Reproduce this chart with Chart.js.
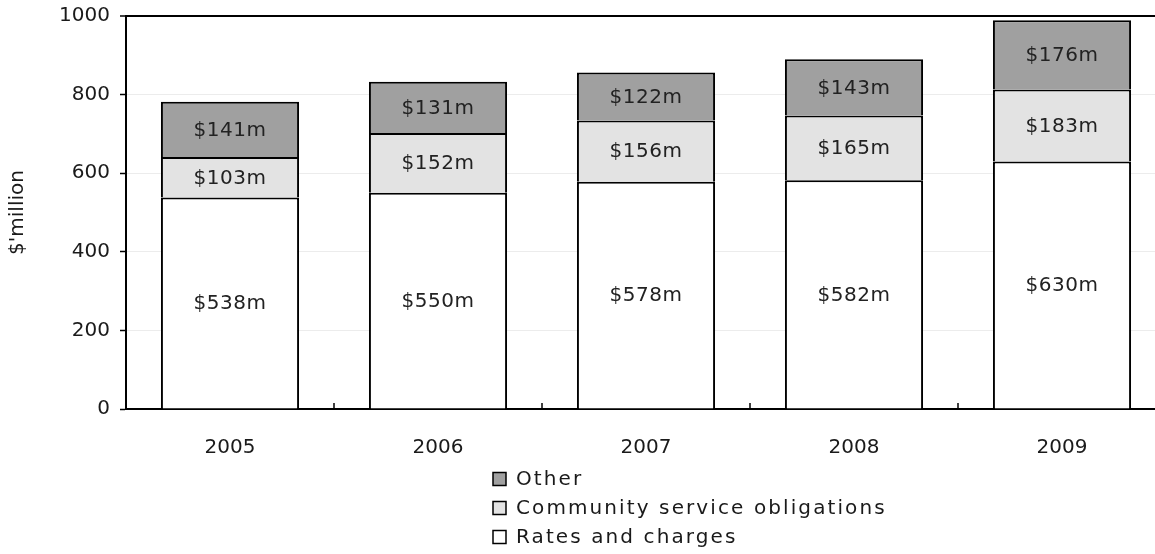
<!DOCTYPE html>
<html>
<head>
<meta charset="utf-8">
<title>Revenue by source</title>
<script src="https://cdn.jsdelivr.net/npm/chart.js@4.4.1/dist/chart.umd.min.js"></script>
<style>
  html, body { margin: 0; padding: 0; background: #fff; overflow: hidden; }
  #wrap { position: relative; width: 1170px; height: 554px; }
</style>
</head>
<body>
<div id="wrap"><canvas id="revenue-chart" width="1170" height="554"></canvas></div>
<script>
// Revenue by source, $ million
const years = ['2005', '2006', '2007', '2008', '2009'];
const ratesAndCharges = [538, 550, 578, 582, 630];
const communityServiceObligations = [103, 152, 156, 165, 183];
const otherRevenue = [141, 131, 122, 143, 176];
const yTicks = [0, 200, 400, 600, 800, 1000];

const FONT = 'DejaVu Sans';
const TEXT = '#1a1a1a';

// small inward ticks between the year categories
const innerTicks = {
  id: 'innerTicks',
  afterDraw(chart) {
    const x = chart.scales.x;
    const ctx = chart.ctx;
    const bottom = chart.chartArea.bottom;
    ctx.save();
    ctx.strokeStyle = '#000';
    ctx.lineWidth = 1.5;
    for (let i = 1; i < years.length; i++) {
      const px = Math.round((x.getPixelForValue(i - 1) + x.getPixelForValue(i)) / 2);
      ctx.beginPath();
      ctx.moveTo(px, bottom);
      ctx.lineTo(px, bottom - 6);
      ctx.stroke();
    }
    ctx.restore();
  }
};

// "$NNNm" labels centred inside each segment
const segmentLabels = {
  id: 'segmentLabels',
  afterDatasetsDraw(chart) {
    const ctx = chart.ctx;
    ctx.save();
    ctx.font = '20px "' + FONT + '"';
    ctx.letterSpacing = '0.5px';
    ctx.fillStyle = '#222';
    ctx.textAlign = 'center';
    ctx.textBaseline = 'middle';
    chart.data.datasets.forEach((ds, di) => {
      chart.getDatasetMeta(di).data.forEach((bar, i) => {
        const p = bar.getProps(['x', 'y', 'base'], true);
        ctx.fillText('$' + ds.data[i] + 'm', p.x, (p.y + p.base) / 2 + 1);
      });
    });
    ctx.restore();
  }
};

// stacked legend under the axis, top series first
const stackLegend = {
  id: 'stackLegend',
  afterDraw(chart) {
    const ctx = chart.ctx;
    const left = 493, top = 479, rowGap = 29, box = 13;
    ctx.save();
    ctx.font = '20px "' + FONT + '"';
    ctx.letterSpacing = '2.1px';
    ctx.textBaseline = 'middle';
    ctx.textAlign = 'left';
    const items = chart.data.datasets.slice().reverse();
    items.forEach((ds, i) => {
      const cy = top + i * rowGap;
      ctx.fillStyle = ds.backgroundColor;
      ctx.fillRect(left, cy - box / 2, box, box);
      ctx.strokeStyle = '#000';
      ctx.lineWidth = 1.5;
      ctx.strokeRect(left, cy - box / 2, box, box);
      ctx.fillStyle = TEXT;
      ctx.fillText(ds.label, left + box + 10, cy + 1);
    });
    ctx.restore();
  }
};

const segmentBorder = { top: 2, bottom: 0, left: 2, right: 2 };

new Chart(document.getElementById('revenue-chart'), {
  type: 'bar',
  data: {
    labels: years,
    datasets: [
      {
        label: 'Rates and charges',
        data: ratesAndCharges,
        backgroundColor: '#ffffff',
        borderColor: '#000',
        borderWidth: segmentBorder,
        borderSkipped: false
      },
      {
        label: 'Community service obligations',
        data: communityServiceObligations,
        backgroundColor: '#e3e3e3',
        borderColor: '#000',
        borderWidth: segmentBorder,
        borderSkipped: false
      },
      {
        label: 'Other',
        data: otherRevenue,
        backgroundColor: '#a0a0a0',
        borderColor: '#000',
        borderWidth: segmentBorder,
        borderSkipped: false
      }
    ]
  },
  options: {
    responsive: false,
    animation: false,
    devicePixelRatio: 1,
    categoryPercentage: 0.664,
    barPercentage: 1,
    layout: { padding: { left: 0, right: 4, top: 16, bottom: 85 } },
    plugins: {
      legend: { display: false },
      tooltip: { enabled: false }
    },
    scales: {
      x: {
        stacked: true,
        grid: { display: false },
        border: { display: true, color: '#000', width: 2 },
        ticks: {
          color: TEXT,
          padding: 19,
          font: { family: FONT, size: 20 }
        },
        afterFit(scale) { scale.height = 60; }
      },
      y: {
        stacked: true,
        min: yTicks[0],
        max: yTicks[yTicks.length - 1],
        afterBuildTicks(scale) {
          scale.ticks = yTicks.map(v => ({ value: v }));
        },
        grid: {
          color: ctx => ctx.tick && ctx.tick.value === 1000 ? '#000' : '#ececec',
          lineWidth: ctx => ctx.tick && ctx.tick.value === 1000 ? 2 : 1,
          tickColor: '#000',
          tickLength: 6,
          tickWidth: 1.5
        },
        border: { display: true, color: '#000', width: 2 },
        ticks: {
          color: TEXT,
          padding: 10,
          font: { family: FONT, size: 20 },
          callback: v => String(v)
        },
        title: {
          display: true,
          text: "$'million",
          color: TEXT,
          padding: { top: 6, bottom: 0 },
          font: { family: FONT, size: 20 }
        },
        afterFit(scale) {
          scale.width = 126;
          scale.paddingTop = 0;
          scale.paddingBottom = 0;
        }
      }
    }
  },
  plugins: [innerTicks, segmentLabels, stackLegend]
});
</script>
</body>
</html>
